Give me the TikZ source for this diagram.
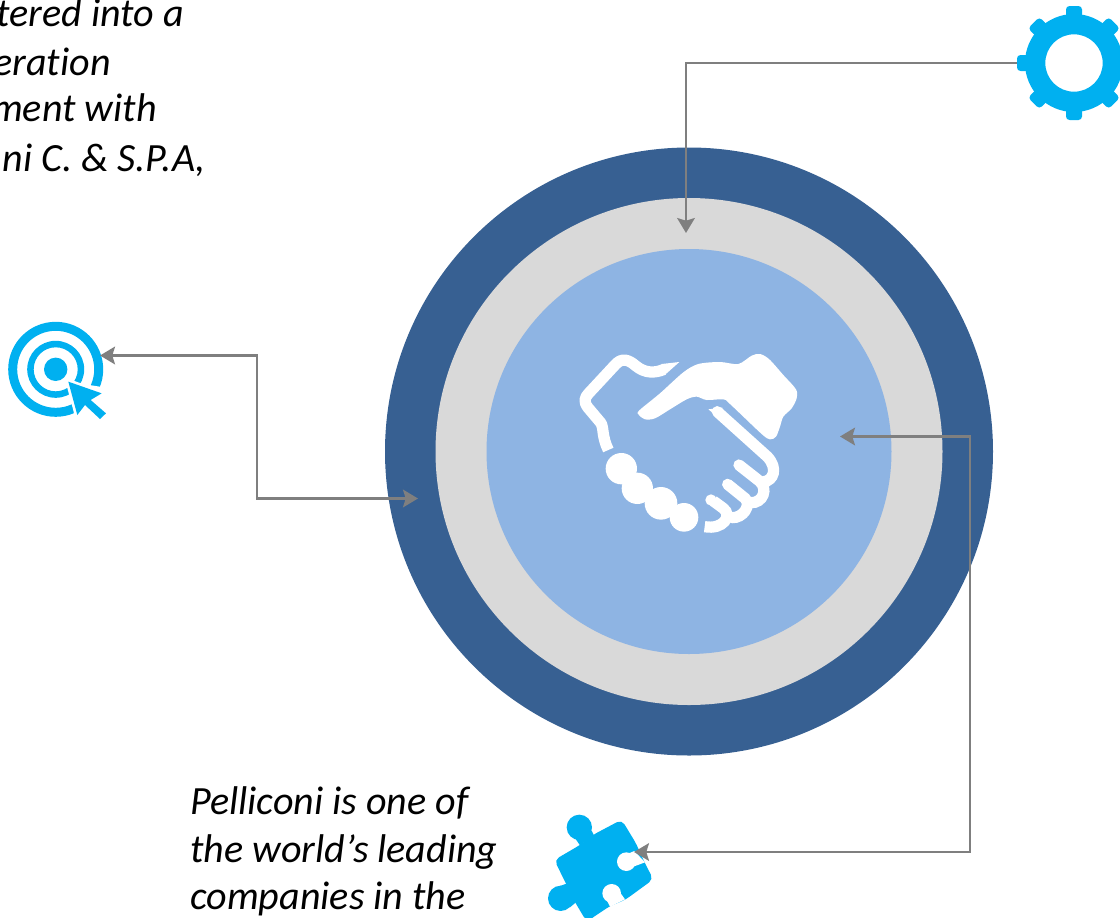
\documentclass[tikz,border=0pt]{standalone}
\usepackage{fontspec}
\setmainfont[Ligatures=NoCommon]{Carlito}
\usetikzlibrary{arrows.meta}
\definecolor{ringblue}{HTML}{376092}
\definecolor{ringgray}{HTML}{D9D9D9}
\definecolor{coreblue}{HTML}{8EB4E3}
\definecolor{iconblue}{HTML}{00B0F0}
\definecolor{linkgray}{HTML}{7F7F7F}
\tikzset{
  disc/.style={circle,inner sep=0,minimum size=#1*0.02cm},
  linkline/.style={draw=linkgray,line width=1.5pt,>={Stealth[length=8.5pt,width=10pt,inset=1.5pt]}},
  story/.style={font=\fontsize{22.8}{27}\selectfont\itshape,inner sep=0},
  iconfill/.style={fill=iconblue,draw=none},
  blank/.style={fill=white,draw=none},
  handline/.style={draw=white,line width=#1,line cap=round},
}
\begin{document}
\begin{tikzpicture}[x=0.02cm,y=-0.02cm]
  \useasboundingbox (0,0) rectangle (1120,917);
  \clip (0,0) rectangle (1120,917);
  \node[disc=608,fill=ringblue] (outerdisc) at (689,451.5) {};
  \node[disc=507,fill=ringgray] (graydisc) at (689,451.5) {};
  \node[disc=405,fill=coreblue] (coredisc) at (689,451.5) {};
  % handshake
  \begin{scope}[shift={(560,340)},x=0.00667cm,y=-0.00667cm,fill=white]
    \draw[handline=6.4pt,line cap=butt,line join=round] (145,330) .. controls (125,290) and (132,262) .. (122,248) -- (84,203) .. controls (70,185) and (74,172) .. (86,160) -- (165,75) .. controls (185,52) and (205,58) .. (228,78) .. controls (255,100) and (285,100) .. (312,88);
    \fill (305,72) -- (358,66) -- (320,100) -- (300,108) -- cycle;
    \fill plot[smooth cycle,tension=.5] coordinates {(237,212) (300,160) (370,97) (415,72) (480,66) (535,72) (575,47) (600,42) (628,58) (670,105) (708,148) (710,175) (695,205) (670,230) (660,260) (648,290) (630,298) (605,282) (510,192) (490,178) (440,180) (410,170) (380,178) (330,208) (285,235) (255,238) (237,225)};
    \draw[handline=6.4pt] (472,215) -- (622,350) .. controls (655,385) and (640,422) .. (612,425);
    \fill (445,208) -- (487,203) -- (490,225) -- (470,228) -- cycle;
    \draw[handline=6.4pt] (537,375) -- (598,423) .. controls (625,445) and (610,490) .. (572,488);
    \draw[handline=6.4pt] (503,433) -- (555,475) .. controls (575,495) and (550,535) .. (515,533);
    \draw[handline=6.4pt,line cap=butt] (460,483) -- (490,505) .. controls (518,527) and (490,570) .. (434,560);
    \fill (453,480) circle (17);
    \fill (184,386) circle (47);
    \fill (232,445) circle (47);
    \fill (303,490) circle (49);
    \fill (372,532) circle (43);
  \end{scope}
  % gear
  \node[disc=114] (gear) at (1074,63) {};
  \foreach \a in {0,45,...,315}
    \fill[iconblue,rotate around={\a:(gear.center)},rounded corners=2pt] (1066,6) rectangle (1082,30);
  \fill[iconblue,even odd rule] (gear.center) circle (49) (gear.center) circle (28.7);
  % target
  \node[disc=95] (aim) at (55.7,369.3) {};
  \fill[iconblue,even odd rule] (aim.center) circle (47.5) (aim.center) circle (38.5);
  \fill[iconblue,even odd rule] (aim.center) circle (28.5) (aim.center) circle (22);
  \fill[iconblue] (aim.center) circle (11.7);
  \begin{scope}[shift={(0,310)},x=0.00667cm,y=-0.00667cm]
    \fill[blank] (205,215) -- (312,232) -- (335,345) -- (222,345) -- (222,300) -- cycle;
    \draw[white,line width=3pt,fill=iconblue] (205,215) -- (305,250) -- (272,270) -- (318,310) -- (300,327) -- (255,285) -- (232,315) -- cycle;
    \fill[iconblue] (205,215) -- (305,250) -- (272,270) -- (318,310) -- (300,327) -- (255,285) -- (232,315) -- cycle;
  \end{scope}
  % puzzle
  \begin{scope}[shift={(530,800)},x=0.00667cm,y=-0.00667cm]
    \fill[iconfill,rounded corners=3pt] (73,180) -- (150,135) -- (190,104) -- (275,59) -- (318,130) -- (345,190) -- (370,238) -- (285,300) -- (240,318) -- (170,365) -- (130,298) -- (110,255) -- cycle;
    \fill[iconfill] (148,82) circle (38);
    \fill[iconfill] (125,100) -- (185,92) -- (192,106) -- (150,136) -- cycle;
    \fill[iconfill] (92,295) circle (38);
    \fill[iconfill] (90,258) -- (112,250) -- (140,305) -- (120,322) -- cycle;
    \fill[blank] (289,185) circle (28);
    \fill[blank] (313,153) -- (345,187) -- (310,200) -- (285,165) -- cycle;
    \fill[blank] (245,280) circle (28);
    \fill[blank] (285,298) -- (240,320) -- (225,290) -- (265,270) -- cycle;
  \end{scope}
  \coordinate (graytip) at (686,233);
  \coordinate (aimtip) at (100,355.5);
  \coordinate (aimbend) at (257,498.5);
  \coordinate (outertip) at (418,498.5);
  \coordinate (coretip) at (840,436.5);
  \coordinate (puzzlebend) at (970,852);
  \coordinate (puzzletip) at (634,852);
  \draw[linkline,->] (gear.west) -| (graytip);
  \draw[linkline,<->] (aimtip) -| (aimbend) -- (outertip);
  \draw[linkline,<->] (coretip) -| (puzzlebend) -- (puzzletip);
  \node[story,anchor=base east] (topa) at (184,26) {tered into a};
  \node[story,anchor=base east] (topb) at (111,75) {eration};
  \node[story,anchor=base east] (topc) at (157,121) {ment with};
  \node[story,anchor=base east] (topd) at (206,171) {ni C. \& S.P.A,};
  \node[story,anchor=base west] (bota) at (190,814) {Pelliconi is one of};
  \node[story,anchor=base west] (botb) at (190,862) {the world’s leading};
  \node[story,anchor=base west] (botc) at (190,909) {companies in the};
\end{tikzpicture}
\end{document}
